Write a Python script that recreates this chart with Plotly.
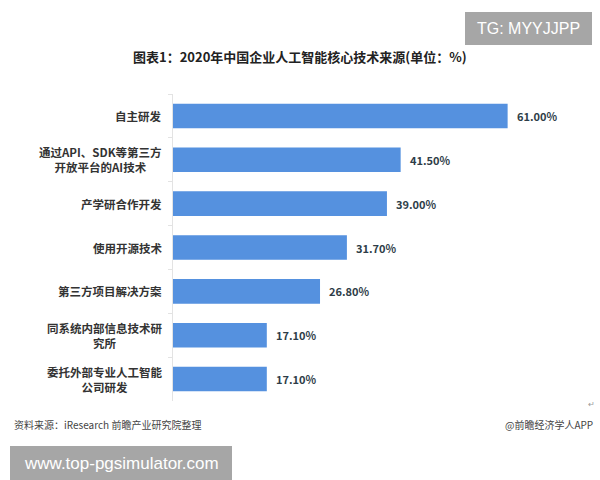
import plotly.graph_objects as go

categories = ["自主研发", "通过API、SDK等第三方<br>开放平台的AI技术", "产学研合作开发",
              "使用开源技术", "第三方项目解决方案", "同系统内部信息技术研<br>究所", "委托外部专业人工智能<br>公司研发"]
values = [61.00, 41.50, 39.00, 31.70, 26.80, 17.10, 17.10]
value_labels = ["61.00%", "41.50%", "39.00%", "31.70%", "26.80%", "17.10%", "17.10%"]

W, H = 600, 480
ml, mr, mt, mb = 173, 43, 94, 79
FONT = "Noto Sans CJK SC"


def paper_x(px):
    return (px - ml) / (W - ml - mr)


def paper_y(py):
    return (H - mb - py) / (H - mt - mb)


fig = go.Figure()
fig.add_trace(go.Bar(
    y=categories, x=values, orientation="h",
    marker=dict(color="#5591DF", line=dict(width=0)),
    width=0.56, hoverinfo="skip",
))

annotations = []
for c, v, t in zip(categories, values, value_labels):
    annotations.append(dict(x=v, y=c, xref="x", yref="y", text=t, showarrow=False,
                            xanchor="left", xshift=7,
                            font=dict(family=FONT, size=11, color="#2E3D48", weight="bold")))
    annotations.append(dict(x=0, y=c, xref="paper", yref="y", text=c, showarrow=False,
                            xanchor="right", xshift=-9, align="center",
                            font=dict(family=FONT, size=11.5, color="#333333", weight="bold")))

# title
annotations.append(dict(x=paper_x(300), y=paper_y(57), xref="paper", yref="paper",
                        xanchor="center", yanchor="middle",
                        text="图表1：2020年中国企业人工智能核心技术来源(单位：%)", showarrow=False,
                        font=dict(family=FONT, size=13, color="#222222", weight="bold")))

fig.update_layout(
    width=W, height=H,
    margin=dict(l=ml, r=mr, t=mt, b=mb),
    paper_bgcolor="white", plot_bgcolor="white",
    showlegend=False,
    bargap=0.44,
    xaxis=dict(range=[0, 70], visible=False, fixedrange=True),
    yaxis=dict(autorange="reversed", showticklabels=False, showline=True, linecolor="#E3E3E3",
               linewidth=1, ticks="outside", ticklen=4, tickcolor="#E3E3E3", tickson="boundaries",
               showgrid=False, zeroline=False, fixedrange=True),
    annotations=annotations,
)

# footer texts
fig.add_annotation(x=paper_x(12), y=paper_y(424), xref="paper", yref="paper",
                   xanchor="left", yanchor="middle", showarrow=False,
                   text="资料来源：iResearch 前瞻产业研究院整理",
                   font=dict(family=FONT, size=10, color="#444444"))
fig.add_annotation(x=paper_x(595), y=paper_y(424), xref="paper", yref="paper",
                   xanchor="right", yanchor="middle", showarrow=False,
                   text="@前瞻经济学人APP",
                   font=dict(family=FONT, size=10, color="#444444"))
fig.add_annotation(x=paper_x(591), y=paper_y(403), xref="paper", yref="paper",
                   xanchor="center", yanchor="middle", showarrow=False,
                   text="↵", font=dict(family=FONT, size=8, color="#999999"))

# grey stamp boxes
fig.add_shape(type="rect", xref="paper", yref="paper",
              x0=paper_x(465), x1=paper_x(592), y0=paper_y(45), y1=paper_y(12),
              fillcolor="#A6A6A6", line=dict(width=0), layer="above")
fig.add_annotation(x=paper_x(528.5), y=paper_y(28.5), xref="paper", yref="paper",
                   xanchor="center", yanchor="middle", showarrow=False,
                   text="TG: MYYJJPP", font=dict(family="Liberation Sans", size=16, color="white"))
fig.add_shape(type="rect", xref="paper", yref="paper",
              x0=paper_x(10), x1=paper_x(232), y0=paper_y(480), y1=paper_y(446),
              fillcolor="#A6A6A6", line=dict(width=0), layer="above")
fig.add_annotation(x=paper_x(121), y=paper_y(463), xref="paper", yref="paper",
                   xanchor="center", yanchor="middle", showarrow=False,
                   text="www.top-pgsimulator.com", font=dict(family="Liberation Sans", size=17, color="white"))

fig.write_html("out.html", config={"displayModeBar": False},
               post_script="document.body.style.margin='0px';document.body.style.overflow='hidden';")
